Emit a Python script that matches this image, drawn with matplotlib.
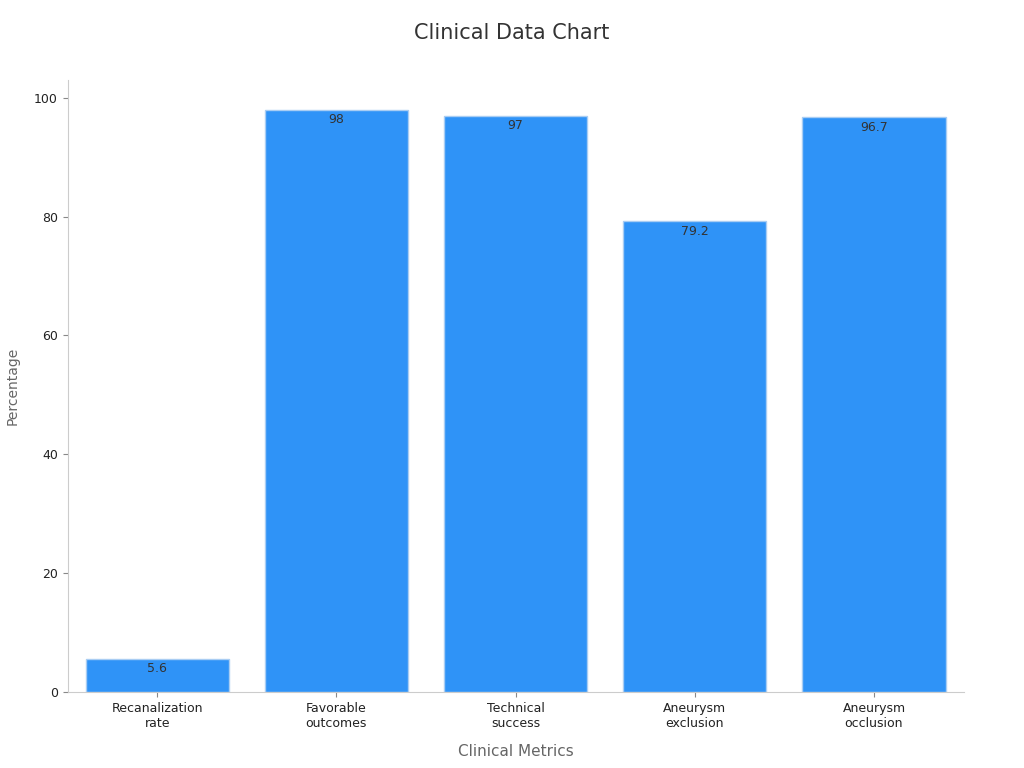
import matplotlib.pyplot as plt

categories = ["Recanalization\nrate", "Favorable\noutcomes", "Technical\nsuccess",
              "Aneurysm\nexclusion", "Aneurysm\nocclusion"]
values = [5.6, 98, 97, 79.2, 96.7]
labels = ["5.6", "98", "97", "79.2", "96.7"]

fig = plt.figure(figsize=(10.24, 7.68), dpi=100)
ax = fig.add_axes([0.066, 0.099, 0.875, 0.797])
bars = ax.bar(range(len(values)), values, width=0.8, color="#2f93f7",
              edgecolor="#a9cdf3", linewidth=1)
for b, t in zip(bars, labels):
    ax.text(b.get_x() + b.get_width() / 2, b.get_height() - 0.6, t,
            ha="center", va="top", fontsize=9, color="#333333")

ax.set_xlim(-0.5, 4.5)
ax.set_ylim(0, 103)
ax.set_yticks([0, 20, 40, 60, 80, 100])
ax.set_xticks(range(len(values)))
ax.set_xticklabels(categories, fontsize=9, color="#222222")
ax.tick_params(axis="y", labelsize=9, colors="#222222")
ax.tick_params(color="#888888")
for s in ["top", "right"]:
    ax.spines[s].set_visible(False)
for s in ["left", "bottom"]:
    ax.spines[s].set_color("#cccccc")
ax.set_xlabel("Clinical Metrics", fontsize=11, color="#666666", labelpad=10)
ax.set_ylabel("Percentage", fontsize=10, color="#666666", labelpad=10)
fig.suptitle("Clinical Data Chart", fontsize=15, color="#333333", y=0.97)

fig.savefig("out.png")
